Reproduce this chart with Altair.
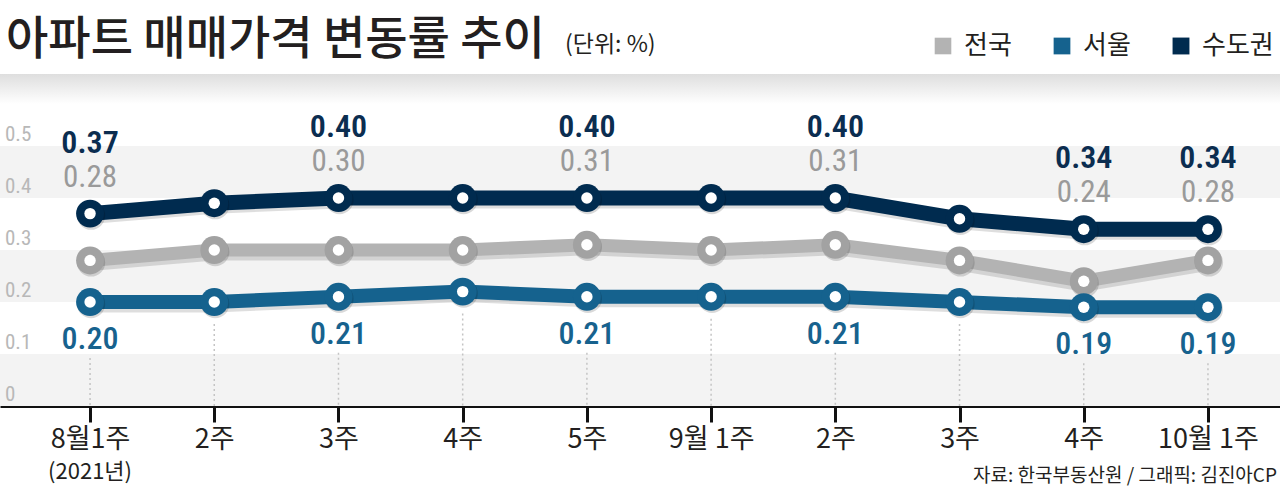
import json
import altair as alt
import pandas as pd

# ---------------- data ----------------
weeks = ["8월1주", "2주", "3주", "4주", "5주", "9월 1주", "2주", "3주", "4주", "10월 1주"]
national = [0.28, 0.30, 0.30, 0.30, 0.31, 0.30, 0.31, 0.28, 0.24, 0.28]
seoul = [0.20, 0.20, 0.21, 0.22, 0.21, 0.21, 0.21, 0.20, 0.19, 0.19]
capital = [0.37, 0.39, 0.40, 0.40, 0.40, 0.40, 0.40, 0.36, 0.34, 0.34]
labeled = [True, False, True, False, True, False, True, False, True, True]

series_names = ["전국", "서울", "수도권"]
line_colors = ["#b3b3b3", "#15628e", "#002b4f"]
dot_colors = ["#a2a2a2", "#15628e", "#002b4f"]

y_ticks = [0, 0.1, 0.2, 0.3, 0.4, 0.5]
y_tick_labels = ["0", "0.1", "0.2", "0.3", "0.4", "0.5"]
band_lo = [0.0, 0.2, 0.4]
band_hi = [0.1, 0.3, 0.5]

title_text = "아파트 매매가격 변동률 추이"
unit_text = "(단위: %)"
source_text = "자료: 한국부동산원 / 그래픽: 김진아CP"
year_text = "(2021년)"

# ---------------- frames ----------------
wide = pd.DataFrame({"idx": list(range(len(weeks))), "전국": national, "서울": seoul,
                     "수도권": capital, "labeled": labeled})
long = wide.melt(id_vars=["idx", "labeled"], value_vars=series_names,
                 var_name="series", value_name="value")
bands = pd.DataFrame({"lo": band_lo, "hi": band_hi})
yt = pd.DataFrame({"v": y_ticks, "t": y_tick_labels})

W, H = 1280, 326
NUM = "Liberation Sans Narrow, Roboto Condensed, Roboto, sans-serif"
KR = "Noto Sans CJK KR"
INK = "#231f20"

xs = alt.Scale(domain=[-0.725, 9.58], nice=False, zero=False)
ys = alt.Scale(domain=[0, 0.627], nice=False, zero=True)

x_axis = alt.Axis(values=list(range(len(weeks))),
                  labelExpr=json.dumps(weeks, ensure_ascii=False) + "[datum.value]",
                  title=None, grid=False, domainColor="#111111", domainWidth=3,
                  tickColor="#111111", tickWidth=3, tickSize=16, labelFontSize=27,
                  labelFont=KR, labelColor=INK, labelPadding=4, labelOverlap=False,
                  labelFlush=False)
X = alt.X("idx:Q", scale=xs, axis=x_axis)


def Y(field):
    return alt.Y(field, scale=ys, axis=None)


# header shadow
header = alt.Chart(pd.DataFrame({"a": [0]})).mark_rect(
    color=alt.Gradient(gradient="linear", x1=0, x2=0, y1=0, y2=1,
                       stops=[alt.GradientStop(color="#dedede", offset=0),
                              alt.GradientStop(color="#ffffff", offset=1)])
).encode(x=alt.value(0), x2=alt.value(W), y=alt.value(-6), y2=alt.value(24))

band_layer = alt.Chart(bands).mark_rect(color="#f3f3f3").encode(
    x=alt.value(0), x2=alt.value(W), y=Y("lo:Q"), y2="hi:Q")

ytext = alt.Chart(yt).mark_text(align="left", baseline="bottom", dy=-1, fontSize=21,
                                font=NUM, color="#b8b8b8").encode(
    x=alt.value(5), y=Y("v:Q"), text="t:N")

rule_lab = alt.Chart(wide).transform_filter("datum.labeled").mark_rule(
    color="#c4c4c4", strokeDash=[2, 3], strokeWidth=1.5, yOffset=56).encode(
    x=X, y=Y("서울:Q"), y2=alt.datum(0))
rule_unlab = alt.Chart(wide).transform_filter("!datum.labeled").mark_rule(
    color="#c4c4c4", strokeDash=[2, 3], strokeWidth=1.5, yOffset=22).encode(
    x=X, y=Y("서울:Q"), y2=alt.datum(0))

line_shadow = alt.Chart(long).mark_line(color="black", opacity=0.13, strokeWidth=15,
                                        yOffset=3).encode(
    x=X, y=Y("value:Q"), detail="series:N")

lines = alt.Chart(long).mark_line(strokeJoin="round").encode(
    x=X, y=Y("value:Q"),
    color=alt.Color("series:N", scale=alt.Scale(domain=series_names, range=line_colors),
                    legend=alt.Legend(orient="none", legendX=930, legendY=-47,
                                      direction="horizontal", title=None,
                                      symbolType="square", symbolSize=169,
                                      symbolStrokeWidth=13, labelFontSize=26,
                                      labelFont=KR, labelColor=INK, labelOffset=8,
                                      columnPadding=22, gridAlign="none",
                                      symbolOpacity=1)),
    size=alt.Size("series:N", scale=alt.Scale(domain=series_names, range=[13, 15, 15]),
                  legend=None),
    order="idx:Q")

dot_shadow = alt.Chart(long).mark_circle(size=800, color="black", opacity=0.15,
                                         yOffset=2, xOffset=1).encode(x=X, y=Y("value:Q"))
dots = alt.Chart(long).mark_circle(size=780, opacity=1).encode(
    x=X, y=Y("value:Q"),
    fill=alt.Fill("series:N", scale=alt.Scale(domain=series_names, range=dot_colors),
                  legend=None))
dots_in = alt.Chart(long).mark_circle(size=130, color="white", opacity=1).encode(
    x=X, y=Y("value:Q"))

lab_src = alt.Chart(wide).transform_filter("datum.labeled")
cap_lab = lab_src.mark_text(dy=-71, fontSize=32, font=NUM, fontWeight=600,
                            color="#0b2d50").encode(
    x=X, y=Y("수도권:Q"), text=alt.Text("수도권:Q", format=".2f"))
nat_lab = lab_src.mark_text(dy=-36, fontSize=31, font=NUM, color="#9a9a9a").encode(
    x=X, y=Y("수도권:Q"), text=alt.Text("전국:Q", format=".2f"))
seo_lab = lab_src.mark_text(dy=37, fontSize=32, font=NUM, fontWeight=500,
                            color="#17628e").encode(
    x=X, y=Y("서울:Q"), text=alt.Text("서울:Q", format=".2f"))

title = alt.Chart(pd.DataFrame({"t": [title_text]})).mark_text(
    align="left", baseline="middle", fontSize=46, font=KR, fontWeight=500,
    color=INK).encode(x=alt.value(6), y=alt.value(-40), text="t:N")
unit = alt.Chart(pd.DataFrame({"t": [unit_text]})).mark_text(
    align="left", baseline="middle", fontSize=23, font=KR, color=INK).encode(
    x=alt.value(565), y=alt.value(-35), text="t:N")
source = alt.Chart(pd.DataFrame({"t": [source_text]})).mark_text(
    align="right", baseline="middle", fontSize=19, font=KR, color=INK).encode(
    x=alt.value(1277), y=alt.value(396), text="t:N")
year = alt.Chart(pd.DataFrame({"idx": [0], "t": [year_text]})).mark_text(
    align="center", baseline="middle", fontSize=22, font=KR, color=INK).encode(
    x=X, y=alt.value(392), text="t:N")

chart = alt.layer(
    header, band_layer, ytext, rule_lab, rule_unlab, line_shadow, lines,
    dot_shadow, dots, dots_in, cap_lab, nat_lab, seo_lab, title, unit, source, year
).properties(
    width=W, height=H,
    padding={"left": 0, "top": 80, "right": 0, "bottom": 88},
    autosize=alt.AutoSizeParams(type="none"),
    background="white",
).configure_view(stroke=None)

chart.save("out.html", embed_options={"renderer": "svg", "actions": False})
